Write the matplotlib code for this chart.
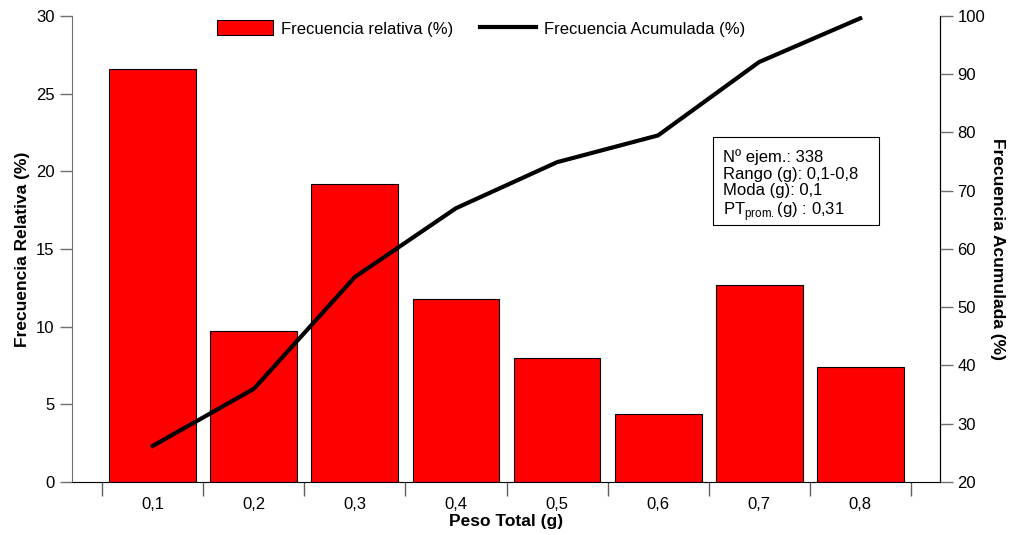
import matplotlib
matplotlib.use("Agg")
import matplotlib.pyplot as plt
from matplotlib.patches import Rectangle
import numpy as np

plt.rcParams["font.family"] = ["Liberation Sans", "DejaVu Sans"]
plt.rcParams["mathtext.fontset"] = "custom"
plt.rcParams["mathtext.rm"] = "Liberation Sans"

categories = ["0,1", "0,2", "0,3", "0,4", "0,5", "0,6", "0,7", "0,8"]
frec_rel = [26.6, 9.75, 19.2, 11.8, 8.0, 4.4, 12.7, 7.4]
frec_acum = [26.2, 36.0, 55.2, 67.0, 74.9, 79.5, 92.1, 99.6]

fig = plt.figure(figsize=(10.1, 5.35), dpi=100)
ax = fig.add_axes([0.0713, 0.0991, 0.8594, 0.871])
ax2 = ax.twinx()

x = np.arange(len(categories))
bars = ax.bar(x, frec_rel, width=0.86, color="#ff0000", edgecolor="black",
              linewidth=0.8, label="Frecuencia relativa (%)")
line, = ax2.plot(x, frec_acum, color="black", linewidth=3,
                 label="Frecuencia Acumulada (%)")

ax.set_xlim(-0.8, 7.79)
ax.set_ylim(0, 30)
ax2.set_ylim(20, 100)
ax.set_yticks([0, 5, 10, 15, 20, 25, 30])
ax2.set_yticks(range(20, 101, 10))

# ticks between the bars, labels under the bars
ax.set_xticks(np.arange(-0.5, 8, 1))
ax.set_xticklabels([])
ax.set_xticks(x, minor=True)
ax.set_xticklabels(categories, minor=True)
ax.tick_params(axis="x", which="major", direction="out", length=10,
               color="#606060", width=1)
ax.tick_params(axis="x", which="minor", length=0, pad=10.5, labelsize=12)
ax.tick_params(axis="y", direction="out", length=9, color="#707070",
               labelsize=12, width=1)
ax2.tick_params(axis="y", direction="out", length=9, color="#707070",
                labelsize=12, width=1)

for a in (ax, ax2):
    a.spines["top"].set_visible(False)
ax.spines["left"].set_color("#707070")
ax2.spines["left"].set_visible(False)
ax2.spines["bottom"].set_visible(False)

ax.set_xlabel("Peso Total (g)", fontsize=12.5, fontweight="bold", labelpad=2)
ax.set_ylabel("Frecuencia Relativa (%)", fontsize=12.5, fontweight="bold",
              labelpad=4)
ax2.set_ylabel("Frecuencia Acumulada (%)", fontsize=12.5, fontweight="bold",
               rotation=-90, labelpad=14)

fig.legend(handles=[bars, line], loc="upper center",
           bbox_to_anchor=(0.476, 0.99), ncol=2, frameon=False,
           fontsize=12, handlelength=3.4, handleheight=1.0,
           columnspacing=1.6, handletextpad=0.45)

ax2.add_patch(Rectangle((0.738, 0.551), 0.192, 0.189, transform=ax2.transAxes,
                        facecolor="white", edgecolor="black", linewidth=0.8,
                        zorder=5))
info = ("Nº ejem.: 338\nRango (g): 0,1-0,8\nModa (g): 0,1\n"
        r"PT$_{\mathrm{prom.}}$(g) : 0,31")
ax2.text(0.750, 0.714, info, transform=ax2.transAxes, fontsize=12,
         va="top", ha="left", linespacing=1.12, zorder=6)

fig.savefig("out.png", dpi=100)
